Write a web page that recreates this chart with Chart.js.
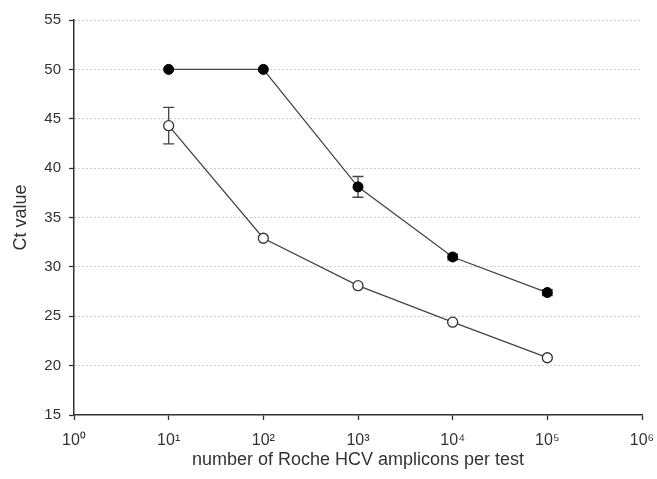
<!DOCTYPE html>
<html>
<head>
<meta charset="utf-8">
<script src="https://cdn.jsdelivr.net/npm/chart.js@4/dist/chart.umd.min.js"></script>
<style>
html,body{margin:0;padding:0;background:#fff;}
#wrap{width:657px;height:479px;}
</style>
</head>
<body>
<div id="wrap"><canvas id="c" width="657" height="479"></canvas></div>
<script>
// ---- data ----
const amplicons = [10, 100, 1000, 10000, 100000];
const filledCt = [50, 50, 38.1, 31.0, 27.4];
const filledErr = [0, 0, 1.05, 0.3, 0.3];
const openCt = [44.3, 32.9, 28.1, 24.4, 20.8];
const openErr = [1.85, 0, 0, 0, 0];
const xTickValues = [1, 10, 100, 1000, 10000, 100000, 1000000];
const yTickValues = [15, 20, 25, 30, 35, 40, 45, 50, 55];
const sup = ['\u2070','\u00B9','\u00B2','\u00B3','\u2074','\u2075','\u2076'];

const FONT = 'Liberation Sans, Arial, Helvetica, sans-serif';

const errorBars = {
  id: 'errorBars',
  beforeDatasetsDraw(chart) {
    const ctx = chart.ctx;
    const ys = chart.scales.y;
    chart.data.datasets.forEach((ds, di) => {
      const meta = chart.getDatasetMeta(di);
      const errs = ds.errors || [];
      meta.data.forEach((pt, i) => {
        const e = errs[i];
        if (!e) return;
        const v = ds.data[i].y;
        const yTop = ys.getPixelForValue(v + e);
        const yBot = ys.getPixelForValue(v - e);
        const x = pt.x;
        ctx.save();
        ctx.strokeStyle = '#444';
        ctx.lineWidth = 1.3;
        ctx.beginPath();
        ctx.moveTo(x, yTop); ctx.lineTo(x, yBot);
        ctx.moveTo(x - 5.5, yTop); ctx.lineTo(x + 5.5, yTop);
        ctx.moveTo(x - 5.5, yBot); ctx.lineTo(x + 5.5, yBot);
        ctx.stroke();
        ctx.restore();
      });
    });
  }
};

new Chart(document.getElementById('c'), {
  type: 'line',
  data: {
    datasets: [
      {
        label: 'filled',
        data: amplicons.map((a, i) => ({x: a, y: filledCt[i]})),
        errors: filledErr,
        borderColor: '#444',
        borderWidth: 1.3,
        pointRadius: 5,
        pointBackgroundColor: '#000',
        pointBorderColor: '#000',
        pointBorderWidth: 1,
        tension: 0
      },
      {
        label: 'open',
        data: amplicons.map((a, i) => ({x: a, y: openCt[i]})),
        errors: openErr,
        borderColor: '#444',
        borderWidth: 1.3,
        pointRadius: 5,
        pointBackgroundColor: '#fff',
        pointBorderColor: '#333',
        pointBorderWidth: 1.3,
        tension: 0
      }
    ]
  },
  options: {
    responsive: false,
    animation: false,
    events: [],
    layout: { padding: { left: 4, right: 15, top: 20, bottom: 0 } },
    plugins: { legend: { display: false }, tooltip: { enabled: false } },
    scales: {
      x: {
        type: 'logarithmic',
        min: 1, max: 1000000,
        afterBuildTicks: (s) => { s.ticks = xTickValues.map(v => ({value: v})); },
        afterFit: (s) => { s.height = 64; s.paddingLeft = 0; s.paddingRight = 0; },
        ticks: {
          autoSkip: false,
          maxRotation: 0,
          padding: 11,
          color: '#333',
          font: { family: FONT, size: 16 },
          callback: (v) => '10' + sup[Math.round(Math.log10(v))]
        },
        grid: { drawOnChartArea: false, drawTicks: true, tickLength: 5, tickColor: '#333', tickWidth: 1.3 },
        border: { display: true, color: '#333', width: 1.5 },
        title: {
          display: true,
          text: 'number of Roche HCV amplicons per test',
          color: '#333',
          font: { family: FONT, size: 18 },
          padding: { top: 0, bottom: 8 }
        }
      },
      y: {
        type: 'linear',
        min: 15, max: 55,
        afterBuildTicks: (s) => { s.ticks = yTickValues.map(v => ({value: v})); },
        afterFit: (s) => { s.width = 70; },
        ticks: {
          padding: 8,
          color: '#333',
          font: { family: FONT, size: 15 },
          callback: (v) => String(v)
        },
        grid: {
          drawOnChartArea: true,
          drawTicks: true,
          tickLength: 5,
          tickColor: '#333',
          tickWidth: 1.3,
          color: (c) => (c.tick && c.tick.value === 15) ? 'rgba(0,0,0,0)' : '#9a9a9a',
          lineWidth: 1
        },
        border: { display: true, color: '#333', width: 1.5, dash: [1, 3] },
        title: {
          display: true,
          text: 'Ct value',
          color: '#333',
          font: { family: FONT, size: 18 },
          padding: { top: 6, bottom: 0 }
        }
      }
    }
  },
  plugins: [errorBars]
});
</script>
</body>
</html>
